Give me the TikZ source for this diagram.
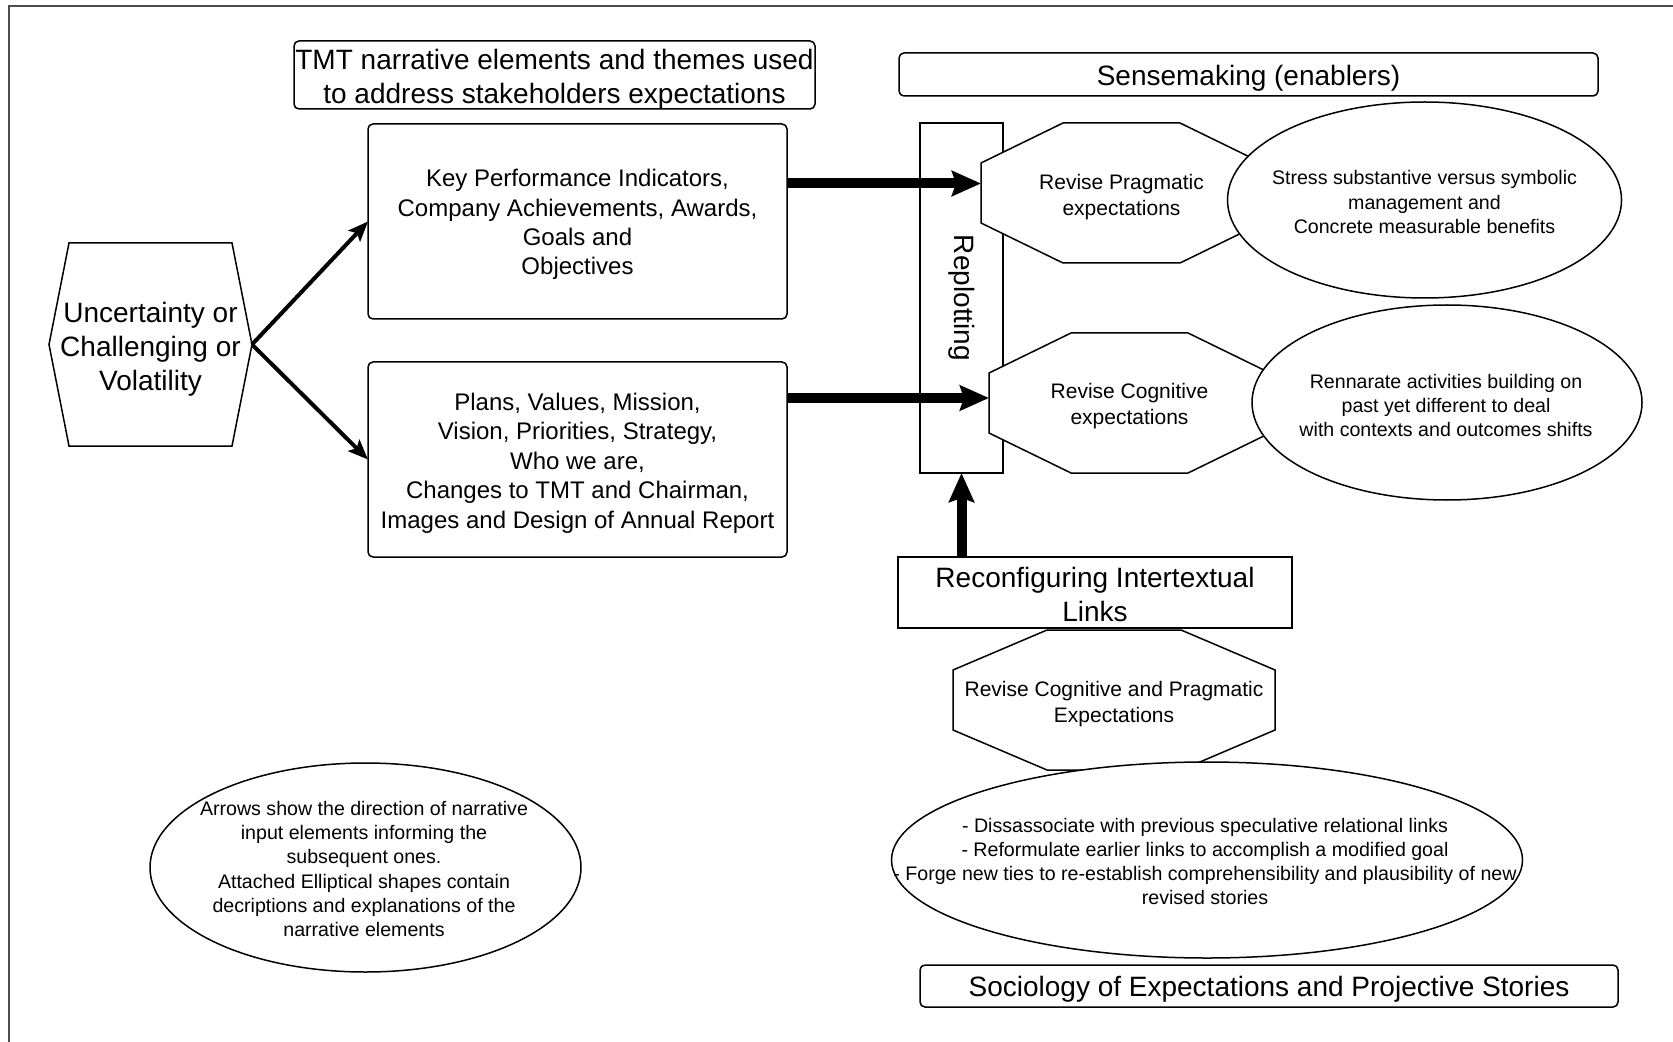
\documentclass[tikz,border=0pt]{standalone}
\usepackage{fontspec}
\setmainfont{Liberation Sans}
\usepackage{graphicx}
\usetikzlibrary{calc,arrows.meta,shapes.geometric}

\newcommand\fbig{\fontsize{14}{17}\selectfont}
\newcommand\fmed{\fontsize{12}{14.7}\selectfont}
\newcommand\fsml{\fontsize{10.5}{12.8}\selectfont}
\newcommand\ftin{\fontsize{9.8}{12.15}\selectfont}

\newcommand\octpath[3]{%
 \draw[line width=0.75pt, fill=white] ($(#1.north west)+(#2,0)$) -- ($(#1.north east)+(-#2,0)$) -- ($(#1.north east)+(0,#3)$) -- ($(#1.south east)+(0,-#3)$) -- ($(#1.south east)+(-#2,0)$) -- ($(#1.south west)+(#2,0)$) -- ($(#1.south west)+(0,-#3)$) -- ($(#1.north west)+(0,#3)$) -- cycle;}

\tikzset{
 x=0.5pt, y=-0.5pt,
 rbox/.style={draw, line width=0.75pt, rounded corners=2.5pt, inner sep=0pt, outer sep=0pt},
 sbox/.style={draw, line width=0.75pt, inner sep=0pt, outer sep=0pt},
 holder/.style={inner sep=0pt, outer sep=0pt},
 oval/.style={ellipse, draw, fill=white, line width=0.75pt, inner sep=0pt, outer sep=0pt},
 txt/.style={align=center, inner sep=0pt},
 thin/.style={line width=2pt, -{Stealth[length=10pt,width=8pt,inset=2pt]}},
 fat/.style={line width=5pt, -{Stealth[length=14.5pt,width=12.5pt,inset=2pt]}},
 frame/.style={line width=1pt, draw=black!70}
}

\begin{document}
\begin{tikzpicture}
\useasboundingbox (0,0) rectangle (1673,1042);
\draw[frame] (9,1042) -- (9,6) -- (1673,6);

% title boxes
\node[rbox, minimum width=260.5pt, minimum height=34pt] (tmt) at (554.5,75) {};
\node[txt, font=\fbig] (tmtt) at ($(tmt)+(0,4)$)
  {TMT narrative elements and themes used\\ to address stakeholders expectations};
\node[rbox, minimum width=349.5pt, minimum height=21.5pt] (sense) at (1248.5,74.5) {};
\node[txt, font=\fbig] (senset) at ($(sense)+(0,4)$) {Sensemaking (enablers)};

% narrative boxes
\node[rbox, minimum width=209.5pt, minimum height=97.5pt] (kpi) at (577.5,221.5) {};
\node[txt, font=\fmed] (kpit) at ($(kpi)+(0,3)$)
  {Key Performance Indicators,\\ Company Achievements, Awards,\\ Goals and\\ Objectives};
\node[rbox, minimum width=209.5pt, minimum height=97.5pt] (plans) at (577.5,459.5) {};
\node[txt, font=\fmed] (planst) at ($(plans)+(0,3.5)$)
  {Plans, Values, Mission,\\ Vision, Priorities, Strategy,\\ Who we are,\\ Changes to TMT and Chairman,\\ Images and Design of Annual Report};

% replotting
\node[sbox, minimum width=41.5pt, minimum height=175pt, font=\fbig] (replot) at (961.5,298)
  {\rotatebox[origin=c]{-90}{Replotting}};

% pragmatic
\node[holder, minimum width=140.5pt, minimum height=70pt] (prag) at (1121.5,193) {};
\octpath{prag}{82}{40}
\node[txt, font=\fsml] (pragt) at (1121.5,197) {Revise Pragmatic\\ expectations};
\node[oval, minimum width=197pt, minimum height=98pt] (stress) at (1424.5,200) {};
\node[txt, font=\ftin] (stresst) at (1424.5,202)
  {Stress substantive versus symbolic\\ management and\\ Concrete measurable benefits};

% cognitive
\node[holder, minimum width=140.5pt, minimum height=70pt] (cog) at (1129.5,403) {};
\octpath{cog}{82}{40}
\node[txt, font=\fsml] (cogt) at (1129.5,406) {Revise Cognitive\\ expectations};
\node[oval, minimum width=195pt, minimum height=97.5pt] (renn) at (1447,402.5) {};
\node[txt, font=\ftin] (rennt) at (1446,405.5)
  {Rennarate activities building on\\ past yet different to deal\\ with contexts and outcomes shifts};

% reconfiguring
\node[sbox, minimum width=197pt, minimum height=35.5pt] (reconf) at (1095,592.5) {};
\node[txt, font=\fbig] (reconft) at ($(reconf)+(0,2)$) {Reconfiguring Intertextual\\ Links};
\node[holder, minimum width=161pt, minimum height=70pt] (cogprag) at (1114,700) {};
\octpath{cogprag}{94}{40}
\node[txt, font=\fsml] (cogpragt) at (1114,704) {Revise Cognitive and Pragmatic\\ Expectations};
\node[oval, minimum width=315.5pt, minimum height=98pt] (links) at (1207,860) {};
\node[txt, font=\ftin] (linkst) at (1205,861.5)
  {- Dissassociate with previous speculative relational links\\
   - Reformulate earlier links to accomplish a modified goal\\
   - Forge new ties to re-establish comprehensibility and plausibility of new\\
   revised stories};

\node[rbox, minimum width=349pt, minimum height=21pt] (socio) at (1269,986) {};
\node[txt, font=\fbig] (sociot) at ($(socio)+(0,3)$) {Sociology of Expectations and Projective Stories};

% note
\node[oval, minimum width=215.5pt, minimum height=104.5pt] (note) at (365.5,867.5) {};
\node[txt, font=\ftin] (notet) at (364,869)
  {Arrows show the direction of narrative\\ input elements informing the\\ subsequent ones.\\
   Attached Elliptical shapes contain\\ decriptions and explanations of the\\ narrative elements};

% uncertainty hexagon
\node[holder, minimum width=81.5pt, minimum height=101.5pt] (unc) at (150.5,344.5) {};
\coordinate (uncw) at ($(unc.west)+(-20,0)$);
\coordinate (unce) at ($(unc.east)+(20,0)$);
\draw[line width=0.75pt] (unc.north west) -- (unc.north east) -- (unce) -- (unc.south east) -- (unc.south west) -- (uncw) -- cycle;
\node[txt, font=\fbig] (unct) at (150.5,349) {Uncertainty or\\ Challenging or\\ Volatility};

% arrows
\draw[thin] (unce) -- (kpi.west);
\draw[thin] (unce) -- (plans.west);
\coordinate (a1) at ($(kpi.east)+(0,-38)$);
\draw[fat] (a1) -- (a1 -| prag.west);
\coordinate (a2) at ($(plans.east)+(0,-61.5)$);
\draw[fat] (a2) -- (a2 -| cog.west);
\draw[fat] (replot.south |- reconf.north) -- (replot.south);
\end{tikzpicture}
\end{document}
